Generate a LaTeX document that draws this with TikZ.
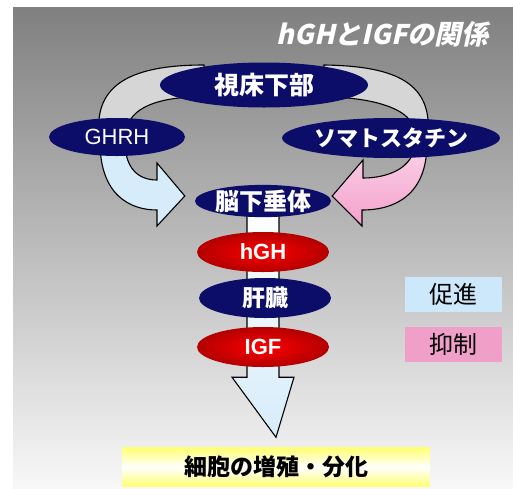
\documentclass[tikz,border=0pt]{standalone}
\usepackage{fontspec}
\setmainfont{Noto Sans CJK JP}
\newfontfamily\titlefont[FakeSlant=0.22,BoldFeatures={FakeSlant=0.22}]{Noto Sans CJK JP}
\newfontfamily\latinfont{Liberation Sans}
\usetikzlibrary{calc,shapes.geometric,positioning}
\definecolor{navy}{RGB}{12,12,105}
\definecolor{bgtop}{RGB}{128,128,128}
\definecolor{bgbot}{RGB}{248,248,248}
\definecolor{bandgray}{RGB}{214,214,214}
\definecolor{pblue}{RGB}{214,236,250}
\definecolor{ppink}{RGB}{244,160,204}
\definecolor{lblue}{RGB}{205,232,250}
\definecolor{lpink}{RGB}{240,160,200}
\pgfdeclarelayer{back}
\pgfdeclarelayer{arrows}
\pgfsetlayers{back,arrows,main}
\tikzset{
  organ/.style={ellipse,fill=navy,text=white,inner sep=0pt,font=\bfseries\fontsize{23}{23}\selectfont},
  hormone/.style={ellipse,inner color=red,outer color=red!70!black,text=white,inner sep=0pt,
    minimum width=132pt,minimum height=40pt,font=\latinfont\bfseries\fontsize{22}{22}\selectfont},
  band/.style={draw=black,line width=1.1pt,fill=bandgray},
  legendbox/.style={minimum width=97pt,minimum height=35pt,inner sep=0pt,font=\fontsize{24}{24}\selectfont}
}
\begin{document}
\begin{tikzpicture}[x=1pt,y=-1pt]
\useasboundingbox (0,0) rectangle (513,488);
\begin{pgfonlayer}{back}
  \shade[top color=bgtop,bottom color=bgbot] (13,7) rectangle (513,488);
\end{pgfonlayer}
\node[text=white,anchor=east,font=\titlefont\bfseries\fontsize{27}{27}\selectfont] (title) at (492,34) {hGHとIGFの関係};
\node[organ,minimum width=208pt,minimum height=45pt,font=\bfseries\fontsize{25}{25}\selectfont] (hypo) at (264,85) {視床下部};
\node[organ,minimum width=136pt,minimum height=38pt,font=\latinfont\fontsize{22}{22}\selectfont] (ghrh) at (117,137) {GHRH};
\node[organ,minimum width=172pt,minimum height=40pt,font=\bfseries\fontsize{22}{22}\selectfont] (soma) at (391,138) {ソマトスタチン};
\node[organ,minimum width=136pt,minimum height=32pt,font=\bfseries\fontsize{24}{24}\selectfont] (pit) at (263,201) {脳下垂体};
\node[hormone] (hgh) at (263,252) {hGH};
\node[organ,minimum width=132pt,minimum height=40pt] (liver) at (265,298) {肝臓};
\node[hormone] (igf) at (263,347) {IGF};
\node[top color=yellow!55,bottom color=yellow!55,middle color=white,minimum width=307pt,minimum height=39pt,
  inner sep=0pt,font=\bfseries\fontsize{23}{23}\selectfont] (cell) at (276,467) {細胞の増殖・分化};
\node[legendbox,fill=lblue] (promo) at (453,294) {促進};
\node[legendbox,fill=lpink] (inhib) at (453,344) {抑制};
\begin{pgfonlayer}{arrows}
  \draw[band] ($(ghrh)+(-18,-5)$) .. controls (95,80) and (140,65) .. ($(hypo)+(-60,-20)$)
    -- ($(hypo)+(-60,12)$) .. controls (160,96) and (127,108) .. ($(ghrh)+(10,-5)$) -- cycle;
  \draw[band] ($(soma)+(37,-5)$) .. controls (432,80) and (390,66) .. ($(hypo)+(60,-20)$)
    -- ($(hypo)+(60,12)$) .. controls (370,97) and (414,108) .. ($(soma)+(24,-5)$) -- cycle;
  \draw[band,fill=pblue] ($(ghrh)+(-17,5)$) .. controls (100,195) and (130,210) .. (157,210)
    -- (157,226) -- ($(pit.west)+(-10,-5)$) -- (157,163) -- (157,180)
    .. controls (138,180) and (125,168) .. ($(ghrh)+(8,5)$) -- cycle;
  \draw[band,top color=ppink!45,bottom color=ppink] ($(soma)+(36,5)$) .. controls (427,195) and (395,210) .. (362,210)
    -- (362,226) -- ($(pit.east)+(1,-5)$) -- (363,160) -- (363,178)
    .. controls (388,178) and (414,168) .. ($(soma)+(24,5)$) -- cycle;
  \draw[band,top color=white,bottom color=pblue] ($(pit.center)+(-16,0)$) -- ($(igf.south)+(-16,10)$) -- ++(-15,0)
    -- ($(cell.north)+(0,-10)$) -- ($(igf.south)+(31,10)$) -- ++(-15,0) -- ($(pit.center)+(16,0)$) -- cycle;
\end{pgfonlayer}
\end{tikzpicture}
\end{document}
